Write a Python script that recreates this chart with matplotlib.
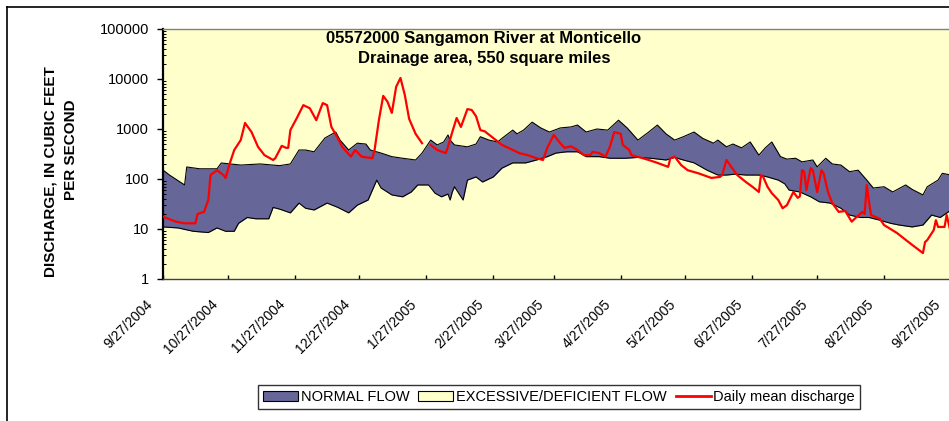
import numpy as np
import pandas as pd
import matplotlib
matplotlib.use("Agg")
import matplotlib.pyplot as plt
from matplotlib.lines import Line2D
from matplotlib.patches import Patch
from matplotlib.transforms import ScaledTranslation

plt.rcParams['font.family'] = ['Liberation Sans', 'DejaVu Sans']

START = pd.Timestamp("2004-09-27")

# Normal-flow band, upper edge (days since 9/27/2004, cfs)
upper_days = [0, 3, 10, 11, 17, 25, 27, 36, 45, 54, 59, 63, 66, 70, 75, 80, 82, 86, 90, 94, 96,
              101, 106, 111, 117, 120, 124, 127, 130, 132, 133, 135, 141, 145, 147, 151, 155, 157,
              162, 164, 167, 171, 175, 179, 184, 189, 192, 196, 201, 206, 211, 215, 220, 225, 229,
              233, 237, 241, 246, 250, 255, 257, 261, 264, 268, 272, 276, 279, 282, 286, 289, 293,
              296, 301, 303, 307, 310, 314, 318, 322, 326, 329, 334, 338, 344, 347, 352, 354, 359,
              361, 365]
upper_vals = [151, 120, 76, 174, 160, 160, 209, 190, 200, 185, 200, 380, 380, 350, 660, 870, 600,
              380, 520, 500, 380, 330, 280, 260, 240, 330, 600, 480, 550, 760, 600, 480, 440, 500,
              700, 600, 550, 650, 950, 800, 950, 1370, 1050, 870, 1050, 1100, 1200, 870, 1000, 950,
              1500, 1050, 600, 870, 1200, 800, 600, 700, 870, 650, 520, 600, 440, 500, 420, 550,
              300, 420, 550, 280, 250, 260, 220, 240, 175, 260, 200, 190, 140, 150, 95, 66, 70, 55,
              76, 62, 48, 70, 95, 130, 120]

# Normal-flow band, lower edge
lower_days = [0, 7, 14, 21, 25, 29, 33, 35, 39, 43, 49, 51, 54, 59, 63, 66, 70, 76, 81, 86, 90,
              95, 97, 99, 101, 106, 111, 115, 118, 123, 126, 129, 132, 133, 134, 135, 139, 141,
              145, 148, 153, 157, 162, 168, 173, 178, 182, 187, 192, 196, 202, 207, 214, 220, 226,
              233, 237, 241, 246, 252, 257, 261, 265, 270, 276, 280, 285, 288, 290, 295, 300, 304,
              309, 314, 318, 323, 327, 332, 337, 341, 347, 352, 356, 360, 365]
lower_vals = [11, 10.5, 9, 8.5, 10.5, 9, 9, 13, 17, 16, 16, 27, 25, 21, 33, 26, 24, 33, 27, 21,
              30, 38, 60, 95, 66, 48, 44, 55, 76, 76, 52, 44, 50, 38, 55, 70, 38, 95, 110, 87, 110,
              165, 210, 210, 240, 280, 330, 350, 350, 280, 280, 260, 260, 270, 260, 240, 270, 240,
              210, 150, 120, 120, 125, 120, 120, 110, 95, 80, 60, 55, 44, 35, 33, 26, 19, 17, 17,
              15, 13, 12, 11, 12, 19, 17, 24]

# Daily mean discharge (NaN = missing record)
flow_days = [0, 6, 10, 15, 16, 19, 21, 22, 25, 28, 29, 31, 33, 36, 38, 41, 44, 47, 51, 52, 55,
             57, 58, 59, 62, 65, 68, 71, 74, 76, 78, 81, 83, 87, 89, 92, 97, 98, 100, 102, 104,
             106, 108, 110, 112, 114, 117, 120, 122, 124, 127, 131, 132, 134, 136, 138, 141, 143,
             145, 147, 149, 153, 157, 161, 165, 169, 173, 176, 178, 181, 184, 186, 189, 192, 195,
             198, 199, 202, 205, 207, 209, 212, 213, 216, 217, 221, 225, 229, 234, 235, 237, 240,
             243, 248, 254, 258, 259, 261, 263, 266, 270, 273, 276, 277, 278, 280, 282, 285, 287,
             289, 292, 294, 295, 296, 297, 298, 300, 301, 303, 305, 306, 308, 310, 313, 316, 319,
             321, 324, 325, 326, 327, 328, 332, 334, 340, 346, 352, 353, 354, 357, 358, 359, 362,
             363, 365]
flow_vals = [17.6, 14, 13, 13, 20, 22, 38, 120, 150, 120, 105, 210, 380, 600, 1320, 870, 440, 300,
             240, 260, 460, 420, 420, 950, 1660, 3000, 2600, 1500, 3300, 3000, 1100, 650, 440,
             280, 380, 280, 260, 380, 1500, 4600, 3500, 2100, 7000, 10500, 4800, 1600, 800, 520,
             np.nan, 480, 380, 330, 440, 870, 1660, 1100, 2500, 2400, 1800, 950, 900, 660, 480,
             400, 330, 300, 260, 240, 420, 760, 520, 420, 450, 380, 300, 300, 350, 330, 280, 440,
             870, 800, 480, 380, 300, 270, 240, 210, 175, 260, 280, 190, 150, 130, 105, 110, 120,
             240, 180, 120, 87, 70, 55, 120, 110, 70, 52, 38, 26, 30, 55, 42, 45, 150, 140, 60,
             165, 150, 55, 150, 130, 55, 33, 22, 23, 14, 17, 22, 20, 76, 35, 19, 16, 12, 8.3, 5.2,
             3.3, 5.5, 6, 9.5, 15, 11, 11, 19, 8]

tick_dates = pd.date_range("2004-09-27", "2005-09-27", freq=pd.DateOffset(months=1))
tick_labels = [f"{d.month}/{d.day}/{d.year}" for d in tick_dates]

to_dates = lambda days: START + pd.to_timedelta(days, unit="D")
ux, lx, fx = to_dates(upper_days), to_dates(lower_days), to_dates(flow_days)

W, H = 949, 421
fig = plt.figure(figsize=(W / 100, H / 100), dpi=100)
fig.patch.set_facecolor("white")

# outer chart frame (only top and left edges are visible)
fig.add_artist(Line2D([7 / W, 1], [1 - 7 / H] * 2, color="black", lw=1.2))
fig.add_artist(Line2D([7 / W] * 2, [0, 1 - 7 / H], color="black", lw=1.2))

ax = fig.add_axes([163 / W, (H - 279) / H, 788 / W, 250 / H])
ax.set_facecolor("#FFFFCC")

band_col = "#666699"
# common grid of the read edge dates for the fill
all_x = np.union1d(np.array(upper_days, float), np.array(lower_days, float))
up_i = np.interp(all_x, upper_days, np.log10(upper_vals))
lo_i = np.interp(all_x, lower_days, np.log10(lower_vals))
ax.fill_between(to_dates(all_x), 10 ** lo_i, 10 ** up_i, color=band_col, lw=0, zorder=1)
ax.plot(ux, upper_vals, color="black", lw=0.8, zorder=2)
ax.plot(lx, lower_vals, color="black", lw=0.8, zorder=2)
ax.plot(fx, flow_vals, color="#FF0000", lw=1.6, zorder=3)

ax.set_yscale("log")
ax.set_ylim(1, 100000)
ax.set_xlim(tick_dates[0], tick_dates[-1])
ax.set_yticks([1, 10, 100, 1000, 10000, 100000])
ax.set_yticklabels(["1", "10", "100", "1000", "10000", "100000"], fontsize=10.5)
ax.yaxis.set_minor_locator(matplotlib.ticker.LogLocator(base=10, subs=np.arange(2, 10), numticks=20))
ax.yaxis.set_minor_formatter(matplotlib.ticker.NullFormatter())
ax.tick_params(axis="y", which="major", direction="out", length=4, width=1, pad=6)
ax.tick_params(axis="y", which="minor", direction="in", length=2.5, width=0.7)

ax.set_xticks(tick_dates)
ax.set_xticklabels(tick_labels, rotation=45, ha="right", va="top",
                   rotation_mode="anchor", fontsize=10)
ax.tick_params(axis="x", which="major", direction="in", length=3, width=1, pad=13)
ax.xaxis.set_minor_locator(matplotlib.ticker.NullLocator())
for lab in ax.get_xticklabels():
    lab.set_transform(lab.get_transform() + ScaledTranslation(-17 / 100, 0, fig.dpi_scale_trans))

ax.spines["left"].set_linewidth(1.6)
ax.spines["left"].set_color("black")
ax.spines["bottom"].set_linewidth(1.0)
ax.spines["bottom"].set_color("#404040")
ax.spines["top"].set_linewidth(1.0)
ax.spines["top"].set_color("#808080")
ax.spines["right"].set_color("#808080")

# titles
fig.text(484 / W, 1 - 38 / H, "05572000 Sangamon River at Monticello", ha="center", va="center",
         fontsize=12, fontweight="bold")
fig.text(484 / W, 1 - 59 / H, "Drainage area, 550 square miles", ha="center", va="center",
         fontsize=12, fontweight="bold")

# y-axis title (two lines)
fig.text(51 / W, 1 - 172 / H, "DISCHARGE, IN CUBIC FEET", rotation=90, ha="center", va="center",
         fontsize=11, fontweight="bold")
fig.text(71 / W, 1 - 150 / H, "PER SECOND", rotation=90, ha="center", va="center",
         fontsize=11, fontweight="bold")

handles = [Patch(facecolor=band_col, edgecolor="black", lw=0.8),
           Patch(facecolor="#FFFFCC", edgecolor="black", lw=0.8),
           Line2D([], [], color="#FF0000", lw=2)]
labels = ["NORMAL FLOW", "EXCESSIVE/DEFICIENT FLOW", "Daily mean discharge"]
leg = fig.legend(handles, labels, loc="center", bbox_to_anchor=(559 / W, 1 - 397 / H), ncol=3,
                 fontsize=10.5, frameon=True, fancybox=False, shadow=False, handlelength=2.4,
                 handleheight=0.7, handletextpad=0.2, columnspacing=0.6, borderpad=0.35,
                 borderaxespad=0)
leg.get_frame().set_edgecolor("black")
leg.get_frame().set_linewidth(1.0)

fig.savefig("out.png", dpi=100)
